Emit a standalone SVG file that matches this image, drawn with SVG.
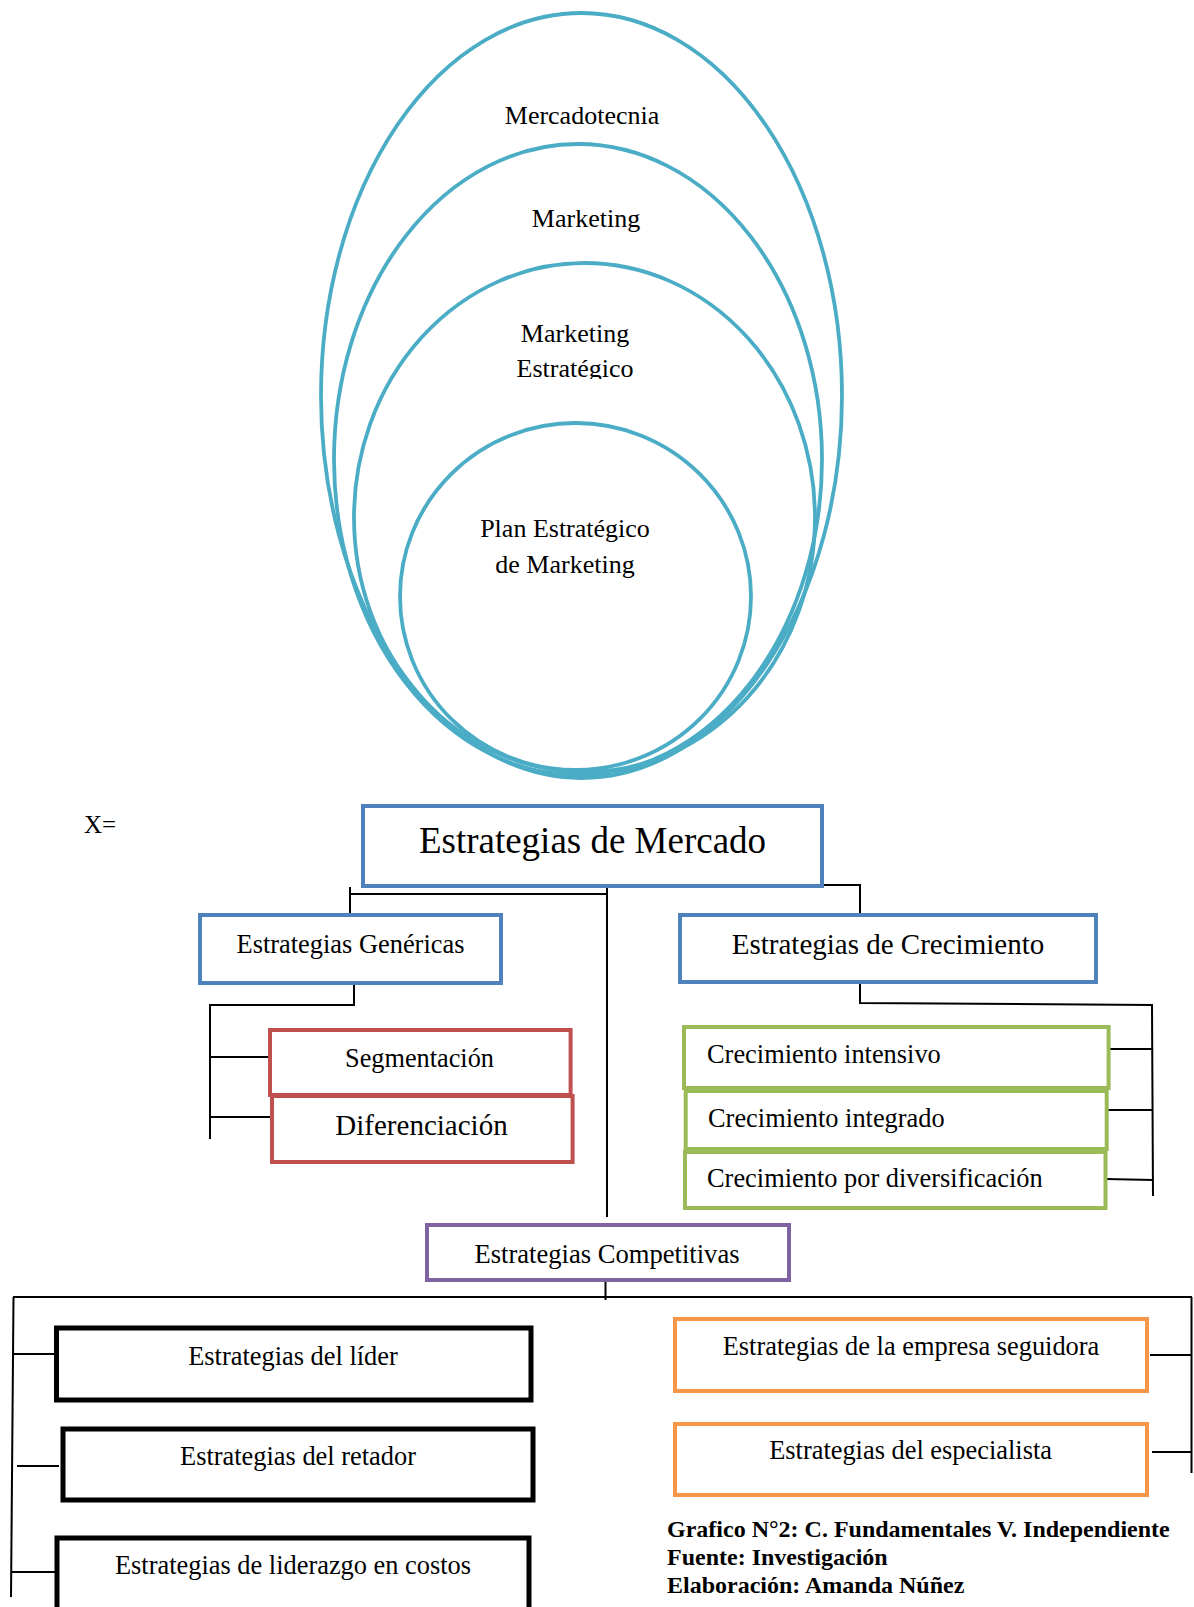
<svg xmlns="http://www.w3.org/2000/svg" width="1194" height="1607" viewBox="0 0 1194 1607">
<style>
text{font-family:"Liberation Serif","Times New Roman",serif;fill:#000}
.e{fill:none;stroke:#4BACC6;stroke-width:3.8}
.box{fill:#fff;stroke-width:4}
.blue{stroke:#4F81BD}.red{stroke:#C0504D}.green{stroke:#9BBB59}.purple{stroke:#8064A2}.orange{stroke:#F79646}
.blk{fill:#fff;stroke:#000;stroke-width:5}
.c{fill:none;stroke:#000;stroke-width:2}
.mid{text-anchor:middle}
.cap{font-weight:bold;font-size:24px}
</style>
<defs>
<clipPath id="clipEst"><rect x="400" y="340" width="400" height="39"/></clipPath>
<clipPath id="clipComp"><rect x="430" y="1230" width="355" height="40"/></clipPath>
</defs>

<g id="ellipses">
<g id="mercadotecnia"><ellipse class="e" cx="581.5" cy="395.5" rx="260.5" ry="382.5"/><text class="mid" x="582" y="124" font-size="26">Mercadotecnia</text></g>
<g id="marketing"><ellipse class="e" cx="578" cy="459.5" rx="244" ry="315.5"/><text class="mid" x="586" y="227" font-size="26">Marketing</text></g>
<g id="marketing-estrategico"><ellipse class="e" cx="584.5" cy="517.5" rx="230.5" ry="254.5"/><text class="mid" x="575" y="342" font-size="26">Marketing</text><text class="mid" x="575" y="377" font-size="26" clip-path="url(#clipEst)">Estratégico</text></g>
<g id="plan"><ellipse class="e" cx="575.5" cy="596.5" rx="175.5" ry="173.5"/><text class="mid" x="565" y="537" font-size="26">Plan Estratégico</text><text class="mid" x="565" y="573" font-size="26">de Marketing</text></g>
</g>

<text x="84" y="833" font-size="25">X=</text>

<g id="connectors">
<polyline class="c" points="350,913 350,894 607,894"/>
<line class="c" x1="350" y1="887" x2="350" y2="894"/>
<line class="c" x1="607" y1="886" x2="607" y2="1217"/>
<polyline class="c" points="822,885 860,885 860,914"/>
<polyline class="c" points="354,976 354,1005 210,1005 210,1139"/>
<line class="c" x1="210" y1="1057" x2="270" y2="1057"/>
<line class="c" x1="211" y1="1117" x2="271" y2="1117"/>
<polyline class="c" points="860,976 860,1003 1152,1005 1153,1196"/>
<line class="c" x1="1109" y1="1049" x2="1152" y2="1049"/>
<line class="c" x1="1107" y1="1110" x2="1152" y2="1110"/>
<line class="c" x1="1106" y1="1179" x2="1153" y2="1180"/>
<line class="c" x1="605.5" y1="1273" x2="605.5" y2="1300"/>
<line class="c" x1="13" y1="1297" x2="1192" y2="1297"/>
<line class="c" x1="13.5" y1="1297" x2="11" y2="1597"/>
<line class="c" x1="13" y1="1354" x2="55" y2="1354"/>
<line class="c" x1="17" y1="1466" x2="59" y2="1466"/>
<line class="c" x1="11" y1="1572" x2="55" y2="1572"/>
<line class="c" x1="1191.5" y1="1297" x2="1191.5" y2="1473"/>
<line class="c" x1="1150" y1="1355" x2="1191" y2="1355"/>
<line class="c" x1="1152" y1="1452" x2="1191" y2="1452"/>
</g>

<g id="estrategias-mercado"><rect class="box blue" x="363" y="806" width="459" height="80"/><text class="mid" x="592.5" y="853" font-size="37">Estrategias de Mercado</text></g>
<g id="estrategias-genericas"><rect class="box blue" x="200" y="915" width="301" height="68"/><text class="mid" x="350.5" y="953" font-size="26.4">Estrategias Genéricas</text></g>
<g id="estrategias-crecimiento"><rect class="box blue" x="680" y="915" width="416" height="67"/><text class="mid" x="888" y="954" font-size="29">Estrategias de Crecimiento</text></g>
<g id="segmentacion"><rect class="box red" x="270" y="1030" width="300.6" height="65"/><text class="mid" x="419.5" y="1067" font-size="26.3">Segmentación</text></g>
<g id="diferenciacion"><rect class="box red" x="272" y="1096" width="300.6" height="66"/><text class="mid" x="421.5" y="1135" font-size="29">Diferenciación</text></g>
<g id="crecimiento-intensivo"><rect class="box green" x="684" y="1027" width="424.6" height="61"/><text x="707" y="1063" font-size="26.4">Crecimiento intensivo</text></g>
<g id="crecimiento-integrado"><rect class="box green" x="685.7" y="1091" width="421" height="58"/><text x="708" y="1127" font-size="26.4">Crecimiento integrado</text></g>
<g id="crecimiento-diversificacion"><rect class="box green" x="685" y="1152" width="420.5" height="56"/><text x="707" y="1187" font-size="26.4">Crecimiento por diversificación</text></g>
<g id="estrategias-competitivas"><rect class="box purple" x="427" y="1225" width="362" height="55"/><text class="mid" x="607" y="1263" font-size="26.6" clip-path="url(#clipComp)">Estrategias Competitivas</text></g>
<g id="lider"><rect class="blk" x="56.5" y="1328" width="474.5" height="72"/><text class="mid" x="293" y="1365" font-size="26.4">Estrategias del líder</text></g>
<g id="retador"><rect class="blk" x="63" y="1429" width="470" height="71"/><text class="mid" x="298" y="1465" font-size="26.4">Estrategias del retador</text></g>
<g id="costos"><rect class="blk" x="57" y="1538" width="472" height="90"/><text class="mid" x="293" y="1574" font-size="26.4">Estrategias de liderazgo en costos</text></g>
<g id="seguidora"><rect class="box orange" x="675" y="1319" width="472" height="72"/><text class="mid" x="911" y="1355" font-size="26.4">Estrategias de la empresa seguidora</text></g>
<g id="especialista"><rect class="box orange" x="675" y="1424" width="472" height="71"/><text class="mid" x="910.6" y="1459" font-size="26.4">Estrategias del especialista</text></g>

<g id="caption">
<text class="cap" x="667" y="1537">Grafico N°2: C. Fundamentales V. Independiente</text>
<text class="cap" x="667" y="1565">Fuente: Investigación</text>
<text class="cap" x="667" y="1593">Elaboración: Amanda Núñez</text>
</g>
</svg>
